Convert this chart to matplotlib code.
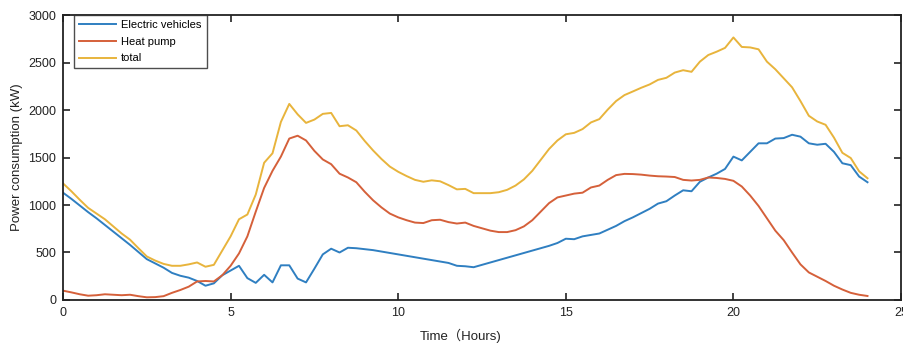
import numpy as np
import matplotlib.pyplot as plt

# time axis in hours, 15 min steps
hours = np.arange(0, 24.01, 0.25)

ev_load = [
    1130, 1065, 995, 925, 860, 790, 720, 650, 580, 505, 430, 385,
    340, 285, 255, 235, 200, 150, 175, 260, 310, 360, 230, 180,
    265, 185, 365, 365, 225, 185, 330, 480, 540, 500, 550, 545,
    535, 525, 510, 495, 480, 465, 450, 435, 420, 405, 390, 360,
    355, 345, 370, 395, 420, 445, 470, 495, 520, 545, 570, 600,
    645, 640, 670, 685, 700, 740, 780, 830, 870, 915, 960, 1015,
    1040, 1100, 1155, 1145, 1245, 1290, 1330, 1380, 1510, 1470, 1560, 1650,
    1650, 1700, 1705, 1740, 1720, 1650, 1635, 1645, 1560, 1440, 1420, 1300,
    1240,
]

hp_load = [
    98, 80, 60, 45, 50, 60, 55, 50, 55, 40, 28, 30,
    40, 75, 105, 140, 195, 200, 195, 260, 360, 490, 670, 930,
    1180, 1360, 1510, 1700, 1730, 1680, 1570, 1480, 1430, 1330, 1290, 1240,
    1140, 1050, 975, 910, 870, 840, 815, 810, 840, 845, 820, 805,
    815, 780, 755, 730, 715, 715, 735, 775, 840, 930, 1020, 1080,
    1100, 1120, 1130, 1185, 1205, 1265, 1315, 1328, 1326, 1320, 1310, 1303,
    1300, 1295, 1265, 1258, 1265, 1290, 1285, 1275, 1255, 1195, 1100, 990,
    860, 730, 630, 500, 375, 290, 245, 200, 150, 110, 75, 55,
    42,
]

total_load = np.array(ev_load) + np.array(hp_load)

labels = ['Electric vehicles', 'Heat pump', 'total']
colors = ['#2f7fc1', '#d5603a', '#e8b43c']

plt.rcParams['font.family'] = ['Liberation Sans', 'Noto Sans CJK SC']

fig = plt.figure(figsize=(9.04, 3.44), dpi=100)
ax = fig.add_axes([0.0697, 0.128, 0.927, 0.828])

for series, name, col in zip([ev_load, hp_load, total_load], labels, colors):
    ax.plot(hours, series, color=col, linewidth=1.4, label=name)

ax.set_xlim(0, 25)
ax.set_ylim(0, 3000)
ax.set_xticks(np.arange(0, 26, 5))
ax.set_yticks(np.arange(0, 3001, 500))
ax.tick_params(direction='in', length=5, width=1.2, top=True, right=True,
               labelsize=9, colors='#222222', pad=5)
for sp in ax.spines.values():
    sp.set_linewidth(1.3)
    sp.set_color('#222222')

ax.set_xlabel('Time（Hours)', fontsize=9.5, color='#222222')
ax.xaxis.set_label_coords(0.474, -0.1)
ax.set_ylabel('Power consumption (kW)', fontsize=9.5, color='#222222')

leg = ax.legend(loc='upper left', bbox_to_anchor=(0.013, 1.0), fontsize=8,
                frameon=True, fancybox=False, handlelength=3.3,
                handletextpad=0.5, borderpad=0.45, labelspacing=0.6,
                borderaxespad=0)
leg.get_frame().set_edgecolor('#222222')
leg.get_frame().set_linewidth(1.0)

fig.savefig('out.png', dpi=100)
